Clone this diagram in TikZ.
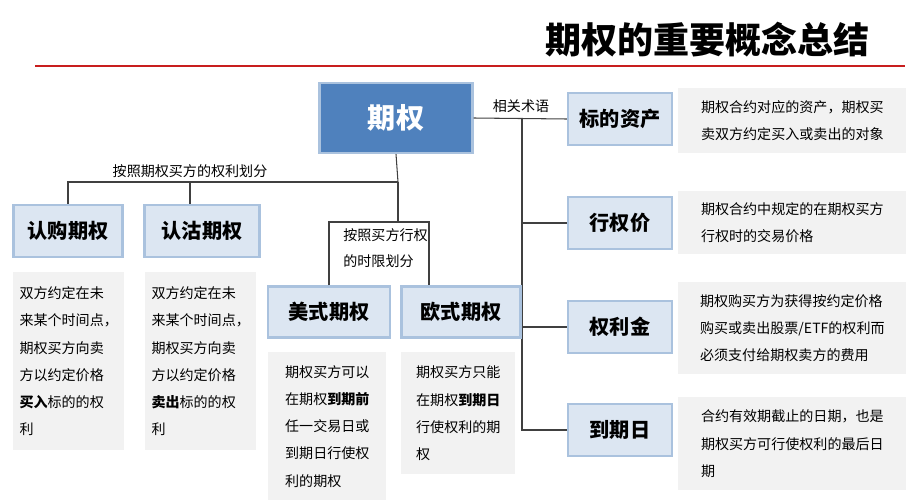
\documentclass[tikz,border=0pt]{standalone}
\usepackage{fontspec}
\setmainfont{Noto Sans CJK SC}
\usetikzlibrary{positioning}
\definecolor{mainblue}{RGB}{79,129,189}
\definecolor{termfill}{RGB}{220,230,242}
\definecolor{termdraw}{RGB}{170,194,222}
\definecolor{descgray}{RGB}{242,242,242}
\definecolor{titlered}{RGB}{200,30,30}
\begin{document}
\begin{tikzpicture}[x=0.02cm, y=-0.02cm,
        every node/.style={inner sep=0pt},
        term/.style={rectangle, draw=termdraw, line width=1.2pt, fill=termfill, font=\fontsize{11.5}{13}\selectfont\bfseries},
        desc/.style={rectangle, fill=descgray, anchor=north west, align=left, inner xsep=6pt, inner ysep=6pt, font=\fontsize{8}{15.5}\selectfont},
        narrow/.style={inner xsep=3.5pt},
        label/.style={font=\fontsize{8}{15}\selectfont},
        link/.style={draw=black!75, line width=0.6pt},
    ]
        \useasboundingbox (0,0) rectangle (922,500);

        % Title
        \node[anchor=east, font=\fontsize{20.5}{22}\selectfont\bfseries] (title) at (870,40) {期权的重要概念总结};
        \coordinate (rl) at (35,66);
        \coordinate (rr) at (905,66);
        \draw[titlered, line width=1.5pt] (rl) -- (rr);

        % Root
        \node[rectangle, draw=termdraw, line width=1.2pt, fill=mainblue, text=white, minimum width=153*0.02cm, minimum height=70*0.02cm, font=\fontsize{16}{18}\selectfont\bfseries] (opt) at (396,118) {期权};

        % Terms on the right
        \node[term, minimum width=104*0.02cm, minimum height=52*0.02cm] (asset) at (620,119) {标的资产};
        \node[term, minimum width=104*0.02cm, minimum height=52*0.02cm] (strike) at (620,223) {行权价};
        \node[term, minimum width=104*0.02cm, minimum height=52*0.02cm] (premium) at (620,327) {权利金};
        \node[term, minimum width=104*0.02cm, minimum height=52*0.02cm] (expiry) at (620,430) {到期日};

        \node[desc, minimum width=228*0.02cm, minimum height=65*0.02cm] (dasset) at (678,88) {期权合约对应的资产，期权买\\卖双方约定买入或卖出的对象};
        \node[desc, minimum width=228*0.02cm, minimum height=63*0.02cm] (dstrike) at (678,191) {期权合约中规定的在期权买方\\行权时的交易价格};
        \node[desc, minimum width=228*0.02cm, minimum height=92*0.02cm] (dpremium) at (678,282) {期权购买方为获得按约定价格\\购买或卖出股票/ETF的权利而\\必须支付给期权卖方的费用};
        \node[desc, minimum width=228*0.02cm, minimum height=93*0.02cm] (dexpiry) at (678,397) {合约有效期截止的日期，也是\\期权买方可行使权利的最后日\\期};

        \coordinate (tj) at (522,118);
        \draw[link] (opt.east) -- (asset.west);
        \draw[link] (tj) |- (strike.west);
        \draw[link] (tj) |- (premium.west);
        \draw[link] (tj) |- (expiry.west);
        \node[label, anchor=south] (tlab) at (521,113) {相关术语};

        % Call / put
        \node[term, minimum width=109*0.02cm, minimum height=52*0.02cm] (call) at (68,231) {认购期权};
        \node[term, minimum width=115*0.02cm, minimum height=52*0.02cm] (put) at (202,231) {认沽期权};
        \node[desc, narrow, minimum width=105*0.02cm, minimum height=178*0.02cm] (dcall) at (13,272) {双方约定在未\\来某个时间点，\\期权买方向卖\\方以约定价格\\\textbf{买入}标的的权\\利};
        \node[desc, narrow, minimum width=105*0.02cm, minimum height=178*0.02cm] (dput) at (145,272) {双方约定在未\\来某个时间点，\\期权买方向卖\\方以约定价格\\\textbf{卖出}标的的权\\利};

        \coordinate (rj) at (398,182);
        \draw[link] (opt.south) -- (rj);
        \draw[link] (rj) -| (call.north);
        \draw[link] (rj) -| ([xshift=-12*0.02cm]put.north);
        \node[label, anchor=south] (rlab) at (190,178) {按照期权买方的权利划分};

        % American / European
        \node[term, minimum width=122*0.02cm, minimum height=51*0.02cm] (amer) at (329,312) {美式期权};
        \node[term, minimum width=119*0.02cm, minimum height=51*0.02cm] (euro) at (461,312) {欧式期权};
        \node[desc, narrow, minimum width=118*0.02cm, minimum height=148*0.02cm] (damer) at (268,352) {期权买方可以\\在期权\textbf{到期前}\\任一交易日或\\到期日行使权\\利的期权};
        \node[desc, narrow, minimum width=114*0.02cm, minimum height=122*0.02cm] (deuro) at (401,352) {期权买方只能\\在期权\textbf{到期日}\\行使权利的期\\权};

        \coordinate (sj) at (398,222);
        \draw[link] (rj) -- (sj);
        \draw[link] (amer.north) |- (sj) -| ([xshift=-32*0.02cm]euro.north);
        \node[label, align=left, anchor=north west] (slab) at (343,228) {按照买方行权\\的时限划分};
\end{tikzpicture}
\end{document}
